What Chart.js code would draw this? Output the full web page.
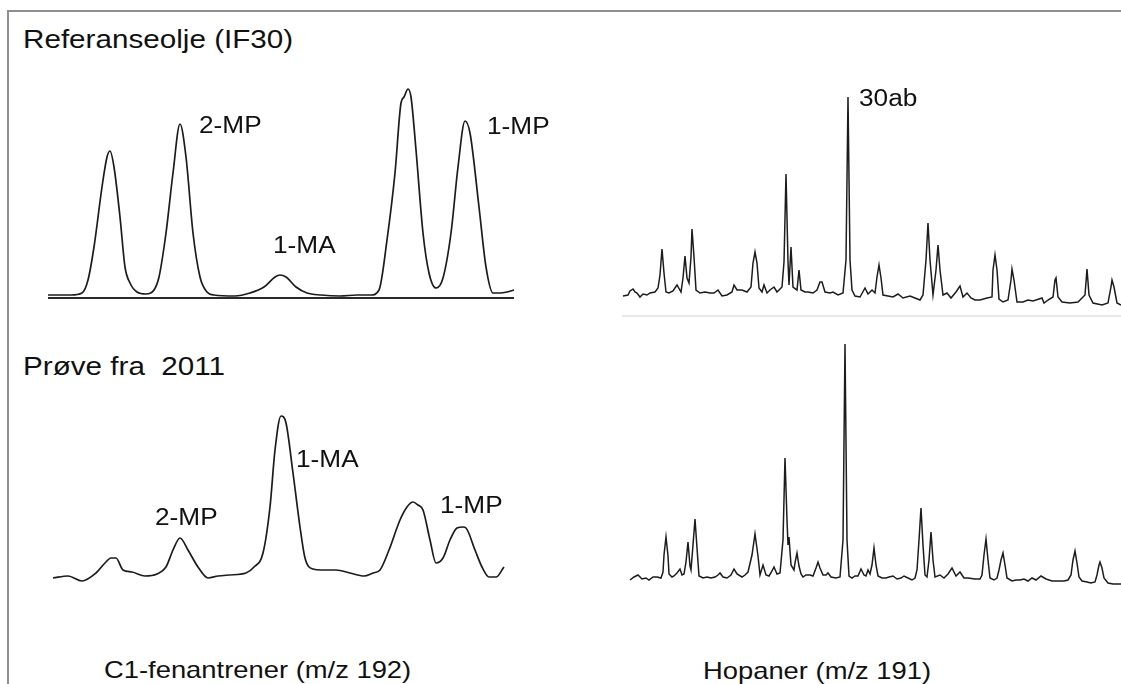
<!DOCTYPE html>
<html>
<head>
<meta charset="utf-8">
<title>C1-fenantrener og hopaner</title>
<script src="https://cdn.jsdelivr.net/npm/chart.js@4"></script>
<style>
  html, body { margin:0; padding:0; background:#fff; }
  #page { position:relative; width:1121px; height:684px; overflow:hidden; background:#fff; }
  #frame { position:absolute; left:7px; top:10px; right:-10px; bottom:-10px;
           border-top:2px solid #8f8f8f; border-left:2px solid #8f8f8f; }
  canvas { position:absolute; }
  .lbl { position:absolute; font-family:"Liberation Sans", Arial, sans-serif; color:#111;
         line-height:1; white-space:pre; transform:scaleX(1.14); transform-origin:0 0; }
</style>
</head>
<body>
<div id="page">
  <div id="frame"></div>
  <canvas id="c1ref" width="490" height="240" style="left:40px;top:70px"></canvas>
  <canvas id="c1new" width="490" height="210" style="left:40px;top:390px"></canvas>
  <canvas id="hopRef" width="509" height="246" style="left:612px;top:80px"></canvas>
  <canvas id="hopNew" width="509" height="270" style="left:612px;top:330px"></canvas>

  <div class="lbl" style="left:23px;top:26px;font-size:26px">Referanseolje (IF30)</div>
  <div class="lbl" style="left:199px;top:114px;font-size:23px">2-MP</div>
  <div class="lbl" style="left:273px;top:234px;font-size:23px">1-MA</div>
  <div class="lbl" style="left:487px;top:115px;font-size:23px">1-MP</div>
  <div class="lbl" style="left:859px;top:87px;font-size:23px">30ab</div>

  <div class="lbl" style="left:23px;top:353px;font-size:26px">Prøve fra  2011</div>
  <div class="lbl" style="left:155px;top:506px;font-size:23px">2-MP</div>
  <div class="lbl" style="left:296px;top:448px;font-size:23px">1-MA</div>
  <div class="lbl" style="left:440px;top:494px;font-size:23px">1-MP</div>

  <div class="lbl" style="left:104px;top:658px;font-size:24px">C1-fenantrener (m/z 192)</div>
  <div class="lbl" style="left:703px;top:659px;font-size:24px">Hopaner (m/z 191)</div>
</div>

<script>
// C1-fenantrener, referanseolje (retention, signal)
var c1RefTime = [0,6,23,34,40,46,54,59,62,66,72,77,82,89,98,106,111,118,125,132,138,145,152,159,166,
  187,202,216,227,232,238,248,259,273,292,309,323,331,339,347,353,356,360,363,368,375,381,388,395,
  403,410,417,422,431,438,445,452,459,466]
var c1RefSignal = [3,3,3,5,18,51,111,141,147,131,81,31,15,6,4,8,21,65,125,174,141,65,21,6,3,
  2,5,11,21,23,21,11,5,3,2,3,3,8,58,125,195,201,209,201,148,65,25,10,20,
  65,131,177,165,91,31,5,5,6,8]

// C1-fenantrener, prøve fra 2011
var c1NewTime = [5,20,34,48,57,63,68,75,84,97,109,118,125,132,140,150,160,170,181,198,206,215,222,227,
  233,238,245,252,257,265,273,288,302,316,325,332,341,352,359,365,370,375,382,388,395,402,409,415,
  418,427,434,441,448,456]
var c1NewSignal = [3,5,0,8,18,23,23,11,9,5,7,14,31,43,31,14,3,5,6,8,14,28,74,131,
  165,158,108,54,23,12,11,11,8,5,8,11,31,61,74,79,76,71,41,18,23,41,53,54,
  53,31,14,4,4,14]

// Hopaner, referanseolje
var hopRefTime = [3,8,10,13,15,17,20,23,27,30,35,38,40,42,44,46,49,53,57,61,63,65,67,69,71,72,74,76,
  80,85,90,94,98,102,107,112,114,117,122,127,131,133,135,137,139,142,144,147,150,154,157,162,164,
  166,168,169,171,173,177,179,181,185,188,193,197,200,202,205,210,213,218,223,226,228,230,232,235,
  240,245,248,252,255,257,259,261,263,268,273,278,283,290,295,300,303,306,308,310,313,316,318,320,
  323,327,331,336,340,343,347,351,355,360,367,372,373,375,377,379,383,388,391,392,394,397,403,408,
  413,419,422,424,428,433,435,436,438,442,450,458,465,467,469,473,482,488,491,492,494,497,501]
var hopRefSignal = [20,21,25,27,24,23,19,22,21,23,24,28,41,67,43,24,23,25,31,24,38,60,38,33,59,87,59,26,
  23,24,23,23,26,20,21,24,31,26,26,24,29,53,64,53,28,24,31,23,26,29,24,29,54,
  142,54,31,69,29,26,46,26,24,24,23,26,34,34,24,23,24,21,23,56,219,56,26,20,
  19,28,22,26,23,39,51,38,21,20,19,22,18,20,18,16,21,56,93,56,21,46,71,46,
  21,23,18,24,30,19,23,18,16,16,18,19,46,61,46,17,14,16,36,47,36,14,14,16,
  15,17,18,13,16,19,36,38,19,14,13,14,21,47,21,13,11,13,29,36,29,13,11]

// Hopaner, prøve fra 2011
var hopNewTime = [10,14,18,22,26,29,33,37,41,43,44,46,48,49,52,54,57,60,62,64,66,68,70,71,73,75,77,79,
  83,87,91,95,98,100,103,107,111,114,117,122,125,128,132,135,138,140,143,146,149,152,154,157,160,
  163,165,167,168,169,171,174,175,177,179,181,183,186,190,193,196,198,200,203,206,208,211,216,220,
  223,225,227,229,232,235,238,241,244,246,248,250,252,254,256,258,262,266,269,273,277,281,284,288,
  292,295,297,299,301,303,305,307,309,311,313,315,320,324,328,332,336,340,344,348,355,360,362,364,
  366,368,370,374,377,379,381,383,385,387,392,396,400,404,408,412,416,421,426,432,438,444,448,451,
  453,455,457,459,462,467,471,475,477,479,480,482,484,488,493,501]
var hopNewSignal = [10,13,15,11,12,10,13,13,12,18,35,53,34,16,13,14,17,21,15,16,28,48,24,20,45,71,42,14,
  12,13,12,13,15,17,13,12,15,21,16,13,15,18,35,56,34,15,25,15,14,19,23,16,17,
  50,132,70,45,53,25,20,27,37,24,16,13,15,15,14,22,28,22,15,15,17,13,12,13,
  50,246,50,14,12,14,14,21,15,14,20,16,25,42,25,14,12,12,13,14,11,12,14,12,
  10,12,20,50,82,45,15,13,30,58,30,13,15,12,16,22,14,18,12,12,11,11,15,35,
  51,30,12,10,12,20,30,37,25,12,9,10,10,11,9,12,10,14,11,9,9,9,10,15,
  30,39,27,13,9,8,7,8,15,25,28,22,12,7,6,6]

// horizontal base line drawn at signal 0 through the chart's own scales
const baseLinePlugin = {
  id: 'baseLine',
  beforeDatasetsDraw(chart, args, o) {
    if (!o || !o.color) return
    const ctx = chart.ctx
    const x = chart.scales.x, y = chart.scales.y
    const py = y.getPixelForValue(0)
    ctx.save()
    ctx.strokeStyle = o.color
    ctx.lineWidth = o.width
    ctx.beginPath()
    ctx.moveTo(x.getPixelForValue(o.from), py)
    ctx.lineTo(x.getPixelForValue(o.to), py)
    ctx.stroke()
    ctx.restore()
  }
}

function makeTrace(id, times, signal, xr, yr, smooth, base) {
  var pts = times.map(function(t, i){ return {x: t, y: signal[i]} })
  return new Chart(document.getElementById(id), {
    type: 'line',
    data: {
      datasets: [{
        data: pts,
        borderColor: '#1c1c1c',
        borderWidth: smooth ? 1.7 : 1.5,
        pointRadius: 0,
        fill: false,
        tension: smooth ? 0.4 : 0,
        cubicInterpolationMode: smooth ? 'monotone' : 'default',
        clip: false
      }]
    },
    options: {
      responsive: false,
      animation: false,
      events: [],
      layout: { padding: 0 },
      plugins: { legend: { display: false }, tooltip: { enabled: false }, baseLine: base || {} },
      scales: {
        x: { type: 'linear', display: false, min: xr[0], max: xr[1] },
        y: { type: 'linear', display: false, min: yr[0], max: yr[1] }
      }
    },
    plugins: [baseLinePlugin]
  })
}

makeTrace('c1ref', c1RefTime, c1RefSignal, [-8, 482], [-12, 228], true,
  { color: '#2a2a2a', width: 2, from: 0, to: 466 })
makeTrace('c1new', c1NewTime, c1NewSignal, [-8, 482], [-19, 191], true)
makeTrace('hopRef', hopRefTime, hopRefSignal, [-8, 501], [-10, 236], false,
  { color: '#e9e9e9', width: 2, from: 2, to: 501 })
makeTrace('hopNew', hopNewTime, hopNewSignal, [-8, 501], [-10, 260], false)
</script>
</body>
</html>
